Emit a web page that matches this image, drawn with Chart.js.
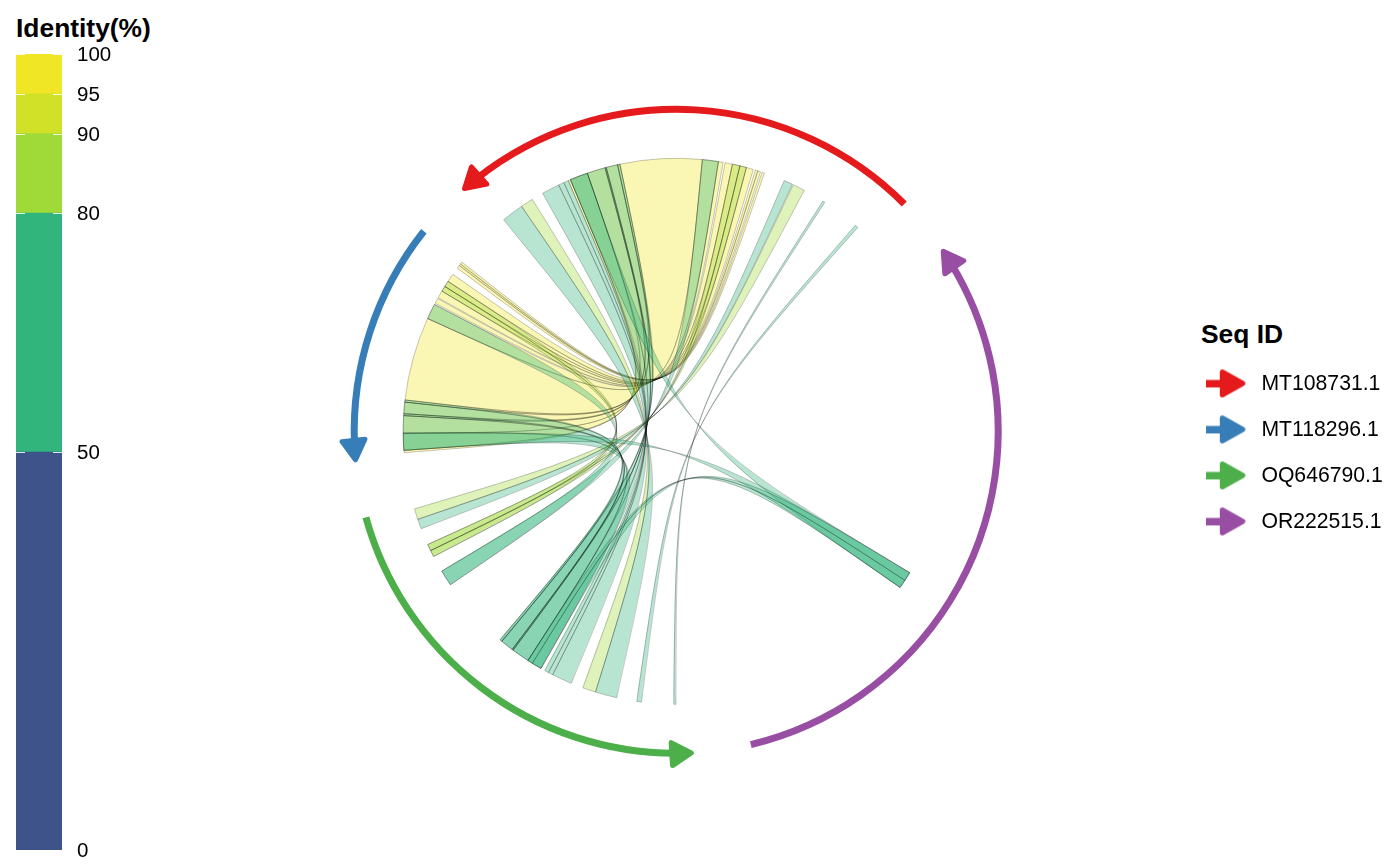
<!DOCTYPE html>
<html>
<head>
<meta charset="utf-8">
<title>Identity chord diagram</title>
<script src="https://cdn.jsdelivr.net/npm/chart.js@4/dist/chart.umd.min.js"></script>
<style>
  html, body { margin: 0; background: #fff; }
  body { width: 1400px; height: 866px; position: relative; overflow: hidden; font-family: "Liberation Sans", sans-serif; }
  canvas { position: absolute; }
  .head { position: absolute; font-weight: bold; font-size: 26.4px; line-height: 30px; color: #000; white-space: nowrap; }
</style>
</head>
<body>
<div class="head" style="left:16px;top:13px">Identity(%)</div>
<div class="head" style="left:1201px;top:319px">Seq ID</div>
<canvas id="chord" width="1400" height="866" style="left:0;top:0"></canvas>
<canvas id="scale" width="160" height="866" style="left:0;top:0"></canvas>
<canvas id="legend" width="219" height="240" style="left:1181px;top:349px"></canvas>
<script>
// colour bar
const bandValues = [50, 30, 10, 5, 5];
const bandColors = ['#3E5389', '#31B57C', '#A0DA39', '#D0E128', '#F0E626'];
const bandTicks = [0, 50, 80, 90, 95, 100];

// sequences, angles in degrees clockwise from 12 o'clock
const seqNames = ['MT108731.1', 'MT118296.1', 'OQ646790.1', 'OR222515.1'];
const seqColors = ['#E41A1C', '#377EB8', '#4DAF4A', '#984EA3'];
const seqStart = [45.1, -51.6, -105.5, 166.6];
const seqEnd = [-41.8, -95.8, -183.4, 55.3];

// links, each end is [start, end] on the circle
const redBlueFrom = [[-23.3, -22.8], [-22.8, -19], [-19, -15.1], [-15.1, -14.85], [-14.85, -12.4], [-12.4, -11.9], [-11.9, 5.5], [5.5, 8.9], [8.9, 9.9], [10.3, 11.9], [11.9, 13.5], [13.5, 14.9], [14.9, 16.4], [16.85, 17.4], [17.4, 18], [18.35, 18.85]];
const redBlueTo = [[-94.5, -94], [-94, -90.4], [-90.4, -86.7], [-86.7, -86.3], [-86.3, -83.85], [-83.85, -83.4], [-83.4, -65.6], [-65.6, -62.3], [-62, -60.9], [-60.7, -59.1], [-59.1, -57.95], [-57.95, -56.7], [-56.7, -54.9], [-53.3, -52.6], [-52.6, -52.2], [-52.2, -51.7]];
const redBlueIdentity = [97, 97, 97, 97, 97, 97, 97, 97, 97, 97, 97, 97, 97, 97, 97, 97];

const redGreenFrom = [[-39.2, -34.5], [-34.5, -31.8], [-29.3, -25.5], [-25.5, -24.3], [-24.3, -23.3], [-22.8, -19], [-19, -15.1], [-15.1, -14.85], [-14.85, -12.4], [-12.4, -11.9], [5.5, 8.9], [11.9, 13.5], [13.5, 14.9], [23.3, 25.2], [25.4, 28], [32.5, 33], [41, 41.7]];
const redGreenTo = [[-167.4, -162.8], [-162.8, -160], [-157.4, -153.1], [-153.1, -152.1], [-152.1, -151.2], [-150.3, -147.1], [-147.1, -143.3], [-143.3, -143.05], [-143.05, -140.3], [-140.3, -139.8], [-124.2, -120.8], [-117.3, -115.9], [-115.9, -114.5], [-110.9, -108.8], [-108.8, -106.5], [-179.95, -179.5], [-172.7, -171.7]];
const redGreenIdentity = [65, 85, 65, 65, 65, 65, 65, 65, 65, 65, 65, 85, 85, 65, 85, 65, 65];

const blueGreenFrom = [[-94, -90.4], [-90.4, -86.7], [-86.7, -86.3], [-86.3, -83.85], [-83.85, -83.4], [-65.6, -62.3], [-59.1, -57.95], [-57.95, -56.7]];
const blueGreenTo = [[-150.3, -147.1], [-147.1, -143.3], [-143.3, -143.05], [-143.05, -140.3], [-140.3, -139.8], [-124.2, -120.8], [-117.3, -115.9], [-115.9, -114.5]];
const blueGreenIdentity = [65, 65, 65, 65, 65, 65, 85, 85];

const purpleFrom = [[121.2, 124.9], [121.2, 124.9], [121.2, 123.1], [123.1, 124.9]];
const purpleTo = [[-22.8, -19], [-94, -90.4], [-150.3, -148.2], [-148.2, -147.1]];
const purpleIdentity = [65, 65, 65, 65];

const LINK_R = 273, SEQ_R = 322;
const rad = d => (d - 90) * Math.PI / 180;
const polar = (d, r) => ({ x: r * Math.sin(d * Math.PI / 180), y: r * Math.cos(d * Math.PI / 180) });

function identityColor(v) {
  let low = 0;
  for (let i = 0; i < bandValues.length; i++) {
    low += bandValues[i];
    if (v <= low) return bandColors[i];
  }
  return bandColors[bandColors.length - 1];
}

function linkSet(from, to, identity) {
  return from.map((f, i) => ({
    data: [polar(f[0], LINK_R), polar(f[1], LINK_R), polar(to[i][0], LINK_R), polar(to[i][1], LINK_R)],
    from: f, to: to[i], backgroundColor: identityColor(identity[i]),
    pointRadius: 0, showLine: false
  }));
}

const linkDatasets = [
  ...linkSet(redBlueFrom, redBlueTo, redBlueIdentity),
  ...linkSet(redGreenFrom, redGreenTo, redGreenIdentity),
  ...linkSet(blueGreenFrom, blueGreenTo, blueGreenIdentity),
  ...linkSet(purpleFrom, purpleTo, purpleIdentity)
];

// the ribbons cross over between the two ends, control points sit on the centre
const ribbonPlugin = {
  id: 'ribbons',
  afterDatasetsDraw(chart) {
    const { ctx, scales: { x, y } } = chart;
    const cx = x.getPixelForValue(0), cy = y.getPixelForValue(0);
    const r = x.getPixelForValue(LINK_R) - cx;
    ctx.save();
    chart.data.datasets.forEach((ds, i) => {
      const [a1, a2, b1, b2] = chart.getDatasetMeta(i).data;
      ctx.beginPath();
      ctx.moveTo(a1.x, a1.y);
      ctx.bezierCurveTo(cx, cy, cx, cy, b1.x, b1.y);
      ctx.arc(cx, cy, r, rad(ds.to[0]), rad(ds.to[1]));
      ctx.bezierCurveTo(cx, cy, cx, cy, a2.x, a2.y);
      ctx.arc(cx, cy, r, rad(ds.from[1]), rad(ds.from[0]), true);
      ctx.closePath();
      ctx.globalAlpha = 0.35;
      ctx.fillStyle = ds.backgroundColor;
      ctx.fill();
      ctx.globalAlpha = 1;
      ctx.strokeStyle = '#000';
      ctx.lineWidth = 0.22;
      ctx.stroke();
    });

    // outer arrows
    seqNames.forEach((name, i) => {
      const dir = seqEnd[i] < seqStart[i] ? 1 : -1;
      const R = x.getPixelForValue(SEQ_R) - cx;
      const tipX = x.getPixelForValue(polar(seqEnd[i], SEQ_R).x);
      const tipY = y.getPixelForValue(polar(seqEnd[i], SEQ_R).y);
      const headDeg = 20 / R * 180 / Math.PI;
      ctx.beginPath();
      ctx.arc(cx, cy, R, rad(seqStart[i]), rad(seqEnd[i] + dir * headDeg), true);
      ctx.strokeStyle = seqColors[i];
      ctx.lineWidth = 7;
      ctx.stroke();
      // tangent pointing back from the tip
      const t = seqEnd[i] * Math.PI / 180;
      const ux = Math.cos(t), uy = Math.sin(t);
      const nx = -uy, ny = ux;
      ctx.beginPath();
      ctx.moveTo(tipX + ux * 4, tipY + uy * 4);
      ctx.lineTo(tipX + ux * 23.5 + nx * 11.5, tipY + uy * 23.5 + ny * 11.5);
      ctx.lineTo(tipX + ux * 23.5 - nx * 11.5, tipY + uy * 23.5 - ny * 11.5);
      ctx.closePath();
      ctx.fillStyle = seqColors[i];
      ctx.lineJoin = 'round';
      ctx.lineWidth = 5;
      ctx.fill();
      ctx.stroke();
    });
    ctx.restore();
  }
};

new Chart(document.getElementById('chord'), {
  type: 'scatter',
  data: { datasets: linkDatasets },
  plugins: [ribbonPlugin],
  options: {
    responsive: false, animation: false,
    layout: { padding: 0 },
    plugins: { legend: { display: false }, tooltip: { enabled: false } },
    scales: {
      x: { type: 'linear', min: -676.2, max: 723.8, display: false },
      y: { type: 'linear', min: -434.7, max: 431.3, display: false }
    }
  }
});

// white tick stubs on both sides of the bar
const stubPlugin = {
  id: 'stubs',
  afterDatasetsDraw(chart) {
    const { ctx, chartArea: { left, right }, scales: { y } } = chart;
    ctx.save();
    ctx.strokeStyle = 'rgba(255,255,255,0.85)';
    ctx.lineWidth = 1;
    bandTicks.forEach(v => {
      const p = Math.round(y.getPixelForValue(v)) + 0.5;
      ctx.beginPath();
      ctx.moveTo(left, p); ctx.lineTo(left + 9, p);
      ctx.moveTo(right - 9, p); ctx.lineTo(right, p);
      ctx.stroke();
    });
    ctx.restore();
  }
};

new Chart(document.getElementById('scale'), {
  type: 'bar',
  data: {
    labels: ['Identity(%)'],
    datasets: bandValues.map((v, i) => ({
      data: [v], backgroundColor: bandColors[i], barPercentage: 1, categoryPercentage: 1, borderWidth: 0
    }))
  },
  plugins: [stubPlugin],
  options: {
    responsive: false, animation: false,
    layout: { padding: { left: 16, top: 54, bottom: 16 } },
    plugins: { legend: { display: false }, tooltip: { enabled: false } },
    scales: {
      x: { stacked: true, display: false },
      y: {
        stacked: true, position: 'right', min: 0, max: 100,
        grid: { display: false, drawTicks: false }, border: { display: false },
        afterBuildTicks(s) { s.ticks = bandTicks.map(value => ({ value })); },
        afterFit(s) { s.width = 98; s.paddingTop = 0; s.paddingBottom = 0; },
        ticks: {
          autoSkip: false, color: '#000', padding: 15, align: 'center', labelOffset: 1.5,
          font: { family: '"Liberation Sans"', size: 20.5 }
        }
      }
    }
  }
});

function arrowIcon(color) {
  const c = document.createElement('canvas');
  c.width = 45; c.height = 34;
  const g = c.getContext('2d');
  g.fillStyle = color; g.strokeStyle = color;
  g.fillRect(0, 12.5, 20, 7.5);
  g.lineJoin = 'round'; g.lineWidth = 5;
  g.beginPath();
  g.moveTo(16.5, 4.5); g.lineTo(37, 16); g.lineTo(16.5, 27.5); g.closePath();
  g.fill(); g.stroke();
  return c;
}

new Chart(document.getElementById('legend'), {
  type: 'scatter',
  data: {
    datasets: seqNames.map((n, i) => ({
      label: n, data: [], pointStyle: arrowIcon(seqColors[i]), backgroundColor: seqColors[i]
    }))
  },
  options: {
    responsive: false, animation: false,
    plugins: {
      tooltip: { enabled: false },
      legend: {
        position: 'left', align: 'start', maxWidth: 219,
        labels: {
          usePointStyle: true, pointStyleWidth: 45, padding: 24.8, color: '#000',
          font: { family: '"Liberation Sans"', size: 21.2 }
        }
      }
    },
    scales: { x: { display: false }, y: { display: false } }
  }
});
</script>
</body>
</html>
